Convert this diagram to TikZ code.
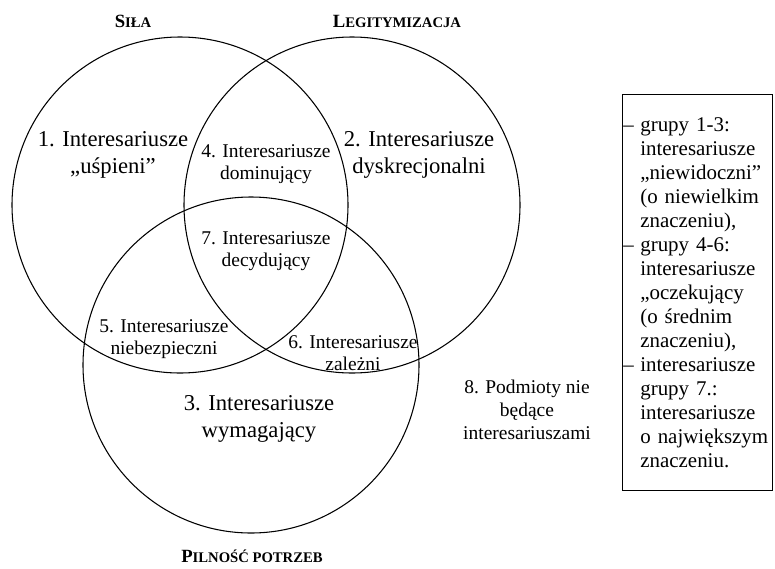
\documentclass[tikz,border=0pt]{standalone}
\usepackage{fontspec}
\setmainfont{Liberation Serif}
\usetikzlibrary{positioning}
\newcommand{\fakesc}[2]{{\fontsize{14}{14}\selectfont #1}{\fontsize{11}{14}\selectfont #2}}
\newcommand{\dsh}{\makebox[12.75pt][l]{--}}
\newcommand{\ind}{\hspace*{12.75pt}}
\tikzset{
    venn/.style={draw, circle, line width=0.8pt, minimum size=252pt, inner sep=0pt},
    bigtxt/.style={align=center, font=\fontsize{17}{20.25}\selectfont, inner sep=0pt},
    smalltxt/.style={align=center, font=\fontsize{14.6}{16.5}\selectfont, inner sep=0pt},
    outtxt/.style={align=center, font=\fontsize{14.6}{17.3}\selectfont, inner sep=0pt},
    title/.style={font=\bfseries, inner sep=0pt},
    legendbox/.style={draw, line width=0.8pt, align=left, text width=111pt, inner xsep=0.6pt, minimum height=297pt, font=\fontsize{15.7}{18}\selectfont},
}
\begin{document}
\begin{tikzpicture}[x=0.75pt, y=-0.75pt]
    \useasboundingbox (0,0) rectangle (775,568);

    % three sets
    \node[venn] (sila) at (180,205) {};
    \node[venn] (legit) at (352,205) {};
    \node[venn] (pilnosc) at (251,365) {};

    \node[title] (tsila) at (133,21) {\fakesc{S}{IŁA}};
    \node[title] (tlegit) at (397,21) {\fakesc{L}{EGITYMIZACJA}};
    \node[title] (tpil) at (252,556) {\fakesc{P}{ILNOŚĆ POTRZEB}};

    % groups
    \node[bigtxt] (g1) at (113,155) {1. Interesariusze\\„uśpieni”};
    \node[bigtxt] (g2) at (419,155) {2. Interesariusze\\dyskrecjonalni};
    \node[bigtxt] (g3) at (259,419) {3. Interesariusze\\wymagający};
    \node[smalltxt] (g4) at (266,164) {4. Interesariusze\\dominujący};
    \node[smalltxt] (g5) at (164,339) {5. Interesariusze\\niebezpieczni};
    \node[smalltxt] (g6) at (353,353) {6. Interesariusze\\zależni};
    \node[smalltxt] (g7) at (266,251) {7. Interesariusze\\decydujący};
    \node[outtxt] (g8) at (527,410) {8. Podmioty nie\\będące\\interesariuszami};

    % legend
    \node[legendbox, anchor=north west] (legend) at (622,94) {%
        \dsh grupy 1-3:\\
        \ind interesariusze\\
        \ind „niewidoczni”\\
        \ind (o niewielkim\\
        \ind znaczeniu),\\
        \dsh grupy 4-6:\\
        \ind interesariusze\\
        \ind „oczekujący\\
        \ind (o średnim\\
        \ind znaczeniu),\\
        \dsh interesariusze\\
        \ind grupy 7.:\\
        \ind interesariusze\\
        \ind o największym\\
        \ind znaczeniu.};
\end{tikzpicture}
\end{document}
